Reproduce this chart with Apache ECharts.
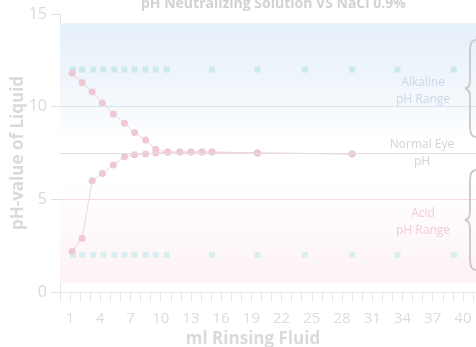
<!DOCTYPE html>
<html>
<head>
<meta charset="utf-8">
<script src="https://cdn.jsdelivr.net/npm/echarts@6/dist/echarts.min.js"></script>
<style>
  html, body { margin: 0; padding: 0; background: #fff; }
  #chart { width: 476px; height: 347px; }
</style>
</head>
<body>
<div id="chart"></div>
<script>
// ml of rinsing fluid (x) and pH (y)
const neutralX = [1.2, 2.2, 3.2, 4.2, 5.3, 6.4, 7.4, 8.5, 9.5, 10.7, 11.9, 13.0, 14.1, 15.1, 19.6, 29.0];
const neutralAlkaline = [11.8, 11.3, 10.8, 10.2, 9.6, 9.1, 8.6, 8.2, 7.7, 7.55, 7.55, 7.55, 7.55, 7.55, 7.5, 7.45];
const neutralAcid = [2.2, 2.9, 6.0, 6.4, 6.85, 7.3, 7.4, 7.45, 7.5, 7.55, 7.55, 7.55, 7.55, 7.55, 7.5, 7.45];

const naclX = [1.3, 2.2, 3.3, 4.3, 5.4, 6.4, 7.4, 8.5, 9.5, 10.6, 15.1, 19.6, 24.3, 29.0, 33.5, 39.1];
const naclAlkaline = [12, 12, 12, 12, 12, 12, 12, 12, 12, 12, 12, 12, 12, 12, 12, 12];
const naclAcid = [2, 2, 2, 2, 2, 2, 2, 2, 2, 2, 2, 2, 2, 2, 2, 2];

const xLabels = [1, 4, 7, 10, 13, 16, 19, 22, 25, 28, 31, 34, 37, 40];
const yTicks = [0, 5, 10, 15];

const font = 'Open Sans';
const pink = '#efc8d6';
const cyan = '#c2e8e2';
const braceColor = '#cccccc';

const pairs = (xs, ys) => xs.map((x, i) => [x, ys[i]]);

// curly brace opening to the right, tip pointing left
function brace(top, bottom) {
  const mid = (top + bottom) / 2;
  const st = { stroke: braceColor, lineWidth: 2, fill: 'none' };
  return [
    { type: 'bezierCurve', z: 10, shape: { x1: 476, y1: top, cpx1: 470, cpy1: top, x2: 470, y2: top + 10 }, style: st },
    { type: 'line', z: 10, shape: { x1: 470, y1: top + 10, x2: 470, y2: mid - 8 }, style: st },
    { type: 'bezierCurve', z: 10, shape: { x1: 470, y1: mid - 8, cpx1: 470, cpy1: mid - 1, x2: 465, y2: mid }, style: st },
    { type: 'bezierCurve', z: 10, shape: { x1: 465, y1: mid, cpx1: 470, cpy1: mid + 1, x2: 470, y2: mid + 8 }, style: st },
    { type: 'line', z: 10, shape: { x1: 470, y1: mid + 8, x2: 470, y2: bottom - 10 }, style: st },
    { type: 'bezierCurve', z: 10, shape: { x1: 470, y1: bottom - 10, cpx1: 470, cpy1: bottom, x2: 476, y2: bottom }, style: st },
  ];
}

function note(text, x, y, color) {
  return {
    type: 'text', z: 10, x: x, y: y,
    style: { text: text, fill: color, fontSize: 12, fontFamily: font, align: 'center', verticalAlign: 'top', lineHeight: 17 },
  };
}

const chart = echarts.init(document.getElementById('chart'));
chart.setOption({
  animation: false,
  backgroundColor: '#fff',
  textStyle: { fontFamily: font },
  title: {
    text: 'pH Neutralizing Solution VS NaCl 0.9%',
    left: 136,
    top: -8,
    textStyle: { fontSize: 14, fontWeight: 'bold', color: '#d2d2d2', fontFamily: font },
  },
  grid: { left: 60, right: 0, top: 14, bottom: 55, outerBoundsMode: 'none', containLabel: false },
  xAxis: {
    type: 'value',
    min: 0,
    max: 41.3,
    interval: 1,
    name: 'ml Rinsing Fluid',
    nameLocation: 'middle',
    nameGap: 39,
    nameMoveOverlap: false,
    nameTextStyle: { fontSize: 17, fontWeight: 'bold', color: '#dadada', padding: [0, 30, 0, 0] },
    splitLine: { show: false },
    axisLine: { lineStyle: { color: '#e6e6e6', width: 1 } },
    axisTick: { length: 10, lineStyle: { color: '#e6e6e6' } },
    axisLabel: {
      margin: 19,
      fontSize: 15,
      color: '#dcdcdc',
      showMaxLabel: false,
      formatter: (v) => (xLabels.indexOf(v) >= 0 ? String(v) : ''),
    },
  },
  yAxis: {
    type: 'value',
    min: yTicks[0],
    max: yTicks[yTicks.length - 1],
    interval: 5,
    name: 'pH-value of Liquid',
    nameLocation: 'middle',
    nameGap: 33,
    nameMoveOverlap: false,
    nameTextStyle: { fontSize: 17, fontWeight: 'bold', color: '#dadada' },
    splitLine: { show: false },
    axisLine: { show: true, lineStyle: { color: '#e6e6e6' } },
    axisTick: { show: true, length: 9, lineStyle: { color: '#e0e0e0' } },
    axisLabel: { margin: 13, fontSize: 16, color: '#dadada' },
  },
  series: [
    {
      type: 'line',
      data: [],
      z: 1,
      silent: true,
      markArea: {
        silent: true,
        data: [[
          {
            yAxis: 14.5,
            itemStyle: {
              color: {
                type: 'linear', x: 0, y: 0, x2: 0, y2: 1,
                colorStops: [
                  { offset: 0, color: '#e6f0f9' },
                  { offset: 0.3, color: '#f3f8fc' },
                  { offset: 0.45, color: '#ffffff' },
                  { offset: 0.6, color: '#ffffff' },
                  { offset: 1, color: '#fdf2f5' },
                ],
              },
            },
          },
          { yAxis: 0.5 },
        ]],
      },
      markLine: {
        silent: true,
        symbol: 'none',
        label: { show: false },
        data: [
          { yAxis: 10, lineStyle: { color: '#d6e6f5', type: 'solid', width: 1.2 } },
          { yAxis: 7.5, lineStyle: { color: '#e2dcea', type: 'solid', width: 1.2 } },
          { yAxis: 5, lineStyle: { color: '#f4d9e1', type: 'solid', width: 1.2 } },
        ],
      },
    },
    {
      name: 'NaCl 0.9% alkaline',
      type: 'scatter',
      z: 3,
      symbol: 'rect',
      symbolSize: 6,
      itemStyle: { color: cyan },
      data: pairs(naclX, naclAlkaline),
    },
    {
      name: 'NaCl 0.9% acid',
      type: 'scatter',
      z: 3,
      symbol: 'rect',
      symbolSize: 6,
      itemStyle: { color: '#cfeeec' },
      data: pairs(naclX, naclAcid),
    },
    {
      name: 'Neutralizing alkaline',
      type: 'line',
      z: 4,
      symbol: 'circle',
      symbolSize: 7,
      itemStyle: { color: pink },
      lineStyle: { color: '#f3d4df', width: 1 },
      data: pairs(neutralX, neutralAlkaline),
    },
    {
      name: 'Neutralizing acid',
      type: 'line',
      z: 4,
      symbol: 'circle',
      symbolSize: 7,
      itemStyle: { color: pink },
      lineStyle: { color: '#f3d4df', width: 1 },
      data: pairs(neutralX, neutralAcid),
    },
  ],
  graphic: [
    note('Alkaline\npH Range', 423, 74, '#cbd8e8'),
    note('Normal Eye\npH', 422, 136, '#d4d4d4'),
    note('Acid\npH Range', 423, 205, '#f2ccd8'),
  ].concat(brace(40, 137), brace(170, 270)),
});
</script>
</body>
</html>
